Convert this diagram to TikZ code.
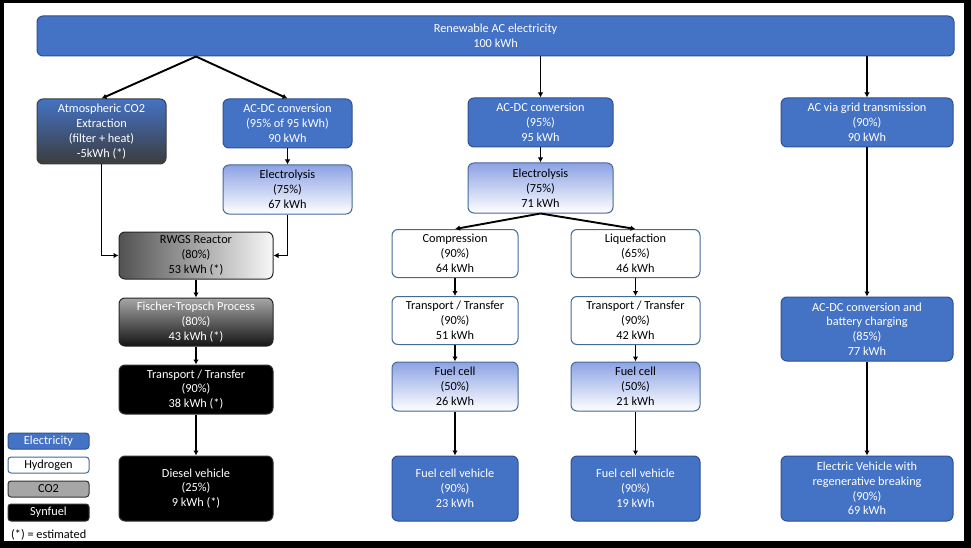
\documentclass[tikz,border=0pt]{standalone}
\usepackage{fontspec}
\setmainfont{Carlito}
\usetikzlibrary{arrows.meta,calc}
\definecolor{eblue}{RGB}{68,114,196}
\definecolor{eborder}{RGB}{47,82,143}
\definecolor{hborder}{RGB}{70,105,150}
\definecolor{lightblue}{RGB}{140,162,228}
\definecolor{darkgray}{RGB}{60,60,60}
\definecolor{midgray}{RGB}{166,166,166}
\begin{document}
\begin{tikzpicture}[x=1pt,y=-1pt,
  box/.style={rounded corners=6pt, draw, line width=1pt, align=center,
    font=\fontsize{12.3}{14.8}\selectfont, inner sep=0pt},
  elecbox/.style={box, fill=eblue, draw=eborder, text=white},
  h2box/.style={box, fill=white, draw=hborder, text=black},
  gradbox/.style={box, draw=hborder, text=black, top color=lightblue, bottom color=white},
  atmbox/.style={box, draw=darkgray, text=white, top color=eblue, bottom color=darkgray},
  rwgsbox/.style={box, draw=black!85, text=black, left color=black!68, right color=black!3},
  ftbox/.style={box, draw=black!85, text=white, top color=midgray, bottom color=black!92},
  synbox/.style={box, draw=black!80, fill=black, text=white},
  legbox/.style={rounded corners=3pt, draw, line width=1pt, align=center,
    font=\fontsize{12.3}{14.8}\selectfont, inner sep=0pt, minimum width=81pt},
  arr/.style={line width=1.9pt, -{Latex[length=5pt,width=5.5pt]}}
]
\fill[black] (0,0) rectangle (971,548);
\fill[white] (4,3) rectangle (964,541);

% top
\node[elecbox, minimum width=917pt, minimum height=40pt] (top) at (495.5,36) {Renewable AC electricity\\100 kWh};

% left column (synfuel)
\node[atmbox, minimum width=129pt, minimum height=65pt] (atm) at (101.5,131.5) {Atmospheric CO2\\Extraction\\(filter + heat)\\-5kWh (*)};
\node[elecbox, minimum width=129pt, minimum height=49pt] (acdc1) at (287.5,123.5) {AC-DC conversion\\(95\% of 95 kWh)\\90 kWh};
\node[gradbox, minimum width=129pt, minimum height=49pt] (elec1) at (287.5,189.5) {Electrolysis\\(75\%)\\67 kWh};
\node[rwgsbox, minimum width=154pt, minimum height=47pt] (rwgs) at (196,255.5) {RWGS Reactor\\(80\%)\\53 kWh (*)};
\node[ftbox, minimum width=154pt, minimum height=48pt] (ft) at (196,322) {Fischer-Tropsch Process\\(80\%)\\43 kWh (*)};
\node[synbox, minimum width=154pt, minimum height=49pt] (tr1) at (196,389.5) {Transport / Transfer\\(90\%)\\38 kWh (*)};
\node[synbox, minimum width=154pt, minimum height=65pt] (diesel) at (196,488.5) {Diesel vehicle\\(25\%)\\9 kWh (*)};

% middle (hydrogen)
\node[elecbox, minimum width=145pt, minimum height=49pt] (acdc2) at (540.5,122.5) {AC-DC conversion\\(95\%)\\95 kWh};
\node[gradbox, minimum width=145pt, minimum height=50pt] (elec2) at (540.5,188) {Electrolysis\\(75\%)\\71 kWh};
\node[h2box, minimum width=126pt, minimum height=48pt] (comp) at (455,253.5) {Compression\\(90\%)\\64 kWh};
\node[h2box, minimum width=129pt, minimum height=48pt] (liq) at (635.5,253.5) {Liquefaction\\(65\%)\\46 kWh};
\node[h2box, minimum width=126pt, minimum height=48pt] (tr2) at (455,320.5) {Transport / Transfer\\(90\%)\\51 kWh};
\node[h2box, minimum width=129pt, minimum height=48pt] (tr3) at (635.5,320.5) {Transport / Transfer\\(90\%)\\42 kWh};
\node[gradbox, minimum width=126pt, minimum height=49pt] (fc1) at (455,386.5) {Fuel cell\\(50\%)\\26 kWh};
\node[gradbox, minimum width=129pt, minimum height=49pt] (fc2) at (635.5,386.5) {Fuel cell\\(50\%)\\21 kWh};
\node[elecbox, minimum width=126pt, minimum height=65pt] (fcv1) at (455,488.5) {Fuel cell vehicle\\(90\%)\\23 kWh};
\node[elecbox, minimum width=129pt, minimum height=65pt] (fcv2) at (635.5,488.5) {Fuel cell vehicle\\(90\%)\\19 kWh};

% right (battery)
\node[elecbox, minimum width=172pt, minimum height=49pt] (grid) at (867,122.5) {AC via grid transmission\\(90\%)\\90 kWh};
\node[elecbox, minimum width=172pt, minimum height=64pt] (acdc3) at (867,329) {AC-DC conversion and\\battery charging\\(85\%)\\77 kWh};
\node[elecbox, minimum width=172pt, minimum height=65pt] (ev) at (867,488.5) {Electric Vehicle with\\regenerative breaking\\(90\%)\\69 kWh};

% legend
\node[legbox, fill=eblue, draw=eborder, text=white, minimum height=16pt] (leg1) at (48.5,441) {Electricity};
\node[legbox, fill=white, draw=hborder, minimum height=16pt] (leg2) at (48.5,465) {Hydrogen};
\node[legbox, fill=midgray, draw=black!80, minimum height=16pt] (leg3) at (48.5,489) {CO2};
\node[legbox, fill=black, draw=black!80, text=white, minimum height=17pt] (leg4) at (48.5,512.5) {Synfuel};
\node[anchor=west, inner sep=0pt, font=\fontsize{12.3}{14.8}\selectfont] (note) at (11,535) {(*) = estimated};

% connectors
\coordinate (splitA) at (top.south -| rwgs.north);
\draw[arr] (splitA) -- (atm.north);
\draw[arr] (splitA) -- (acdc1.north);
\draw[arr] (acdc2.north |- top.south) -- (acdc2.north);
\draw[arr] (grid.north |- top.south) -- (grid.north);
\draw[arr] (acdc1) -- (elec1);
\draw[arr] (atm.south) |- (rwgs.west);
\draw[arr] (elec1.south) |- (rwgs.east);
\draw[arr] (rwgs) -- (ft);
\draw[arr] (ft) -- (tr1);
\draw[arr] (tr1) -- (diesel);
\draw[arr] (acdc2) -- (elec2);
\draw[arr] (elec2.south) -- (comp.north);
\draw[arr] (elec2.south) -- (liq.north);
\draw[arr] (comp) -- (tr2);
\draw[arr] (tr2) -- (fc1);
\draw[arr] (fc1) -- (fcv1);
\draw[arr] (liq) -- (tr3);
\draw[arr] (tr3) -- (fc2);
\draw[arr] (fc2) -- (fcv2);
\draw[arr] (grid) -- (acdc3);
\draw[arr] (acdc3) -- (ev);
\end{tikzpicture}
\end{document}
